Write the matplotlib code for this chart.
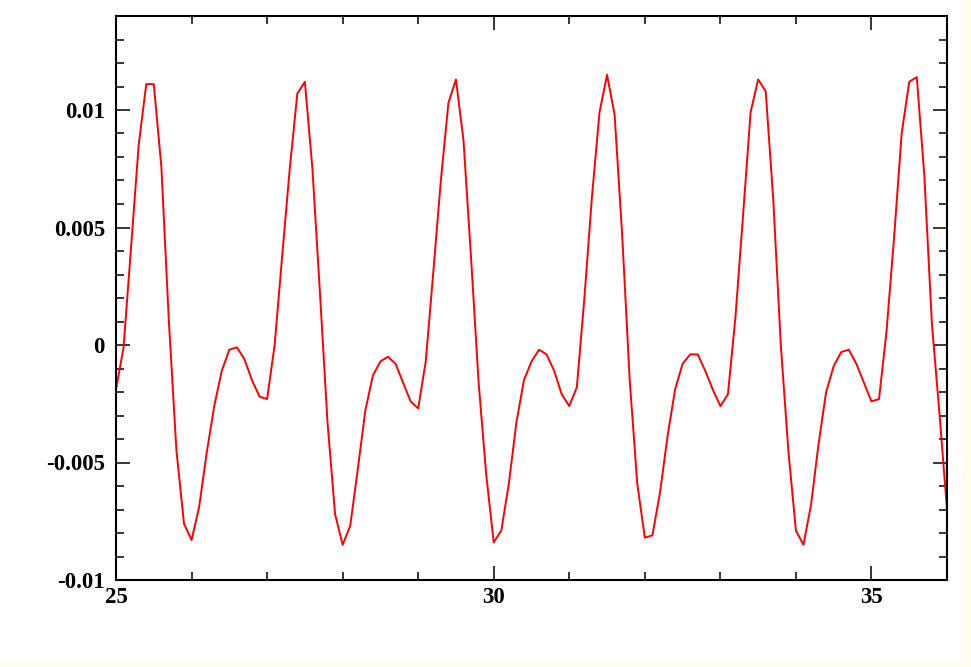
import numpy as np
import matplotlib
matplotlib.use("Agg")
import matplotlib.pyplot as plt
from matplotlib.patches import Rectangle
from matplotlib.ticker import MultipleLocator, FixedFormatter, FixedLocator

x_start = 25.0
x_step = 0.1
signal = [
    -0.0019, -0.0001, 0.0042, 0.0085, 0.0111, 0.0111, 0.0076, 0.0010, -0.0045, -0.0076,
    -0.0083, -0.0069, -0.0046, -0.0026, -0.0011, -0.0002, -0.0001, -0.0006, -0.0015, -0.0022,
    -0.0023, 0.0000, 0.0038, 0.0075, 0.0107, 0.0112, 0.0075, 0.0022, -0.0033, -0.0072,
    -0.0085, -0.0077, -0.0053, -0.0028, -0.0013, -0.0007, -0.0005, -0.0008, -0.0016, -0.0024,
    -0.0027, -0.0007, 0.0031, 0.0070, 0.0103, 0.0113, 0.0087, 0.0037, -0.0016, -0.0055,
    -0.0084, -0.0079, -0.0059, -0.0033, -0.0015, -0.0007, -0.0002, -0.0004, -0.0011, -0.0021,
    -0.0026, -0.0018, 0.0020, 0.0063, 0.0099, 0.0115, 0.0098, 0.0047, -0.0015, -0.0059,
    -0.0082, -0.0081, -0.0063, -0.0039, -0.0019, -0.0008, -0.0004, -0.0004, -0.0011, -0.0019,
    -0.0026, -0.0021, 0.0012, 0.0055, 0.0099, 0.0113, 0.0108, 0.0062, 0.0000, -0.0045,
    -0.0079, -0.0085, -0.0068, -0.0042, -0.0020, -0.0009, -0.0003, -0.0002, -0.0008, -0.0016,
    -0.0024, -0.0023, 0.0006, 0.0046, 0.0090, 0.0112, 0.0114, 0.0072, 0.0009, -0.0029,
    -0.0070,
]
x = x_start + x_step * np.arange(len(signal))

x_ticks = [25, 30, 35]
x_labels = ["25", "30", "35"]
y_ticks = [-0.01, -0.005, 0, 0.005, 0.01]
y_labels = ["-0.01", "-0.005", "0", "0.005", "0.01"]

plt.rcParams["font.family"] = ["Liberation Serif", "DejaVu Serif"]
plt.rcParams["font.weight"] = "bold"

fig = plt.figure(figsize=(9.71, 6.67), dpi=100, facecolor="#fffcf0")
fig.patches.append(Rectangle((0, 4 / 667), 962 / 971, 663 / 667,
                             transform=fig.transFigure, facecolor="white",
                             edgecolor="none", zorder=-1))
ax = fig.add_axes([116 / 971, 1 - 580 / 667, 831 / 971, 564 / 667])
ax.set_facecolor("white")

ax.plot(x, signal, color="red", lw=1.4)

ax.set_xlim(25, 36)
ax.set_ylim(-0.01, 0.014)
ax.xaxis.set_major_locator(FixedLocator(x_ticks))
ax.xaxis.set_major_formatter(FixedFormatter(x_labels))
ax.xaxis.set_minor_locator(MultipleLocator(1))
ax.yaxis.set_major_locator(FixedLocator(y_ticks))
ax.yaxis.set_major_formatter(FixedFormatter(y_labels))
ax.yaxis.set_minor_locator(MultipleLocator(0.001))

ax.tick_params(which="both", direction="in", top=True, right=True,
               width=1.1, color="black", labelsize=16.5)
ax.tick_params(which="major", length=10)
ax.tick_params(which="minor", length=6)
ax.tick_params(axis="x", pad=5)
ax.tick_params(axis="y", pad=8)
for s in ax.spines.values():
    s.set_linewidth(1.5)

fig.savefig("out.png", dpi=100, facecolor=fig.get_facecolor())
